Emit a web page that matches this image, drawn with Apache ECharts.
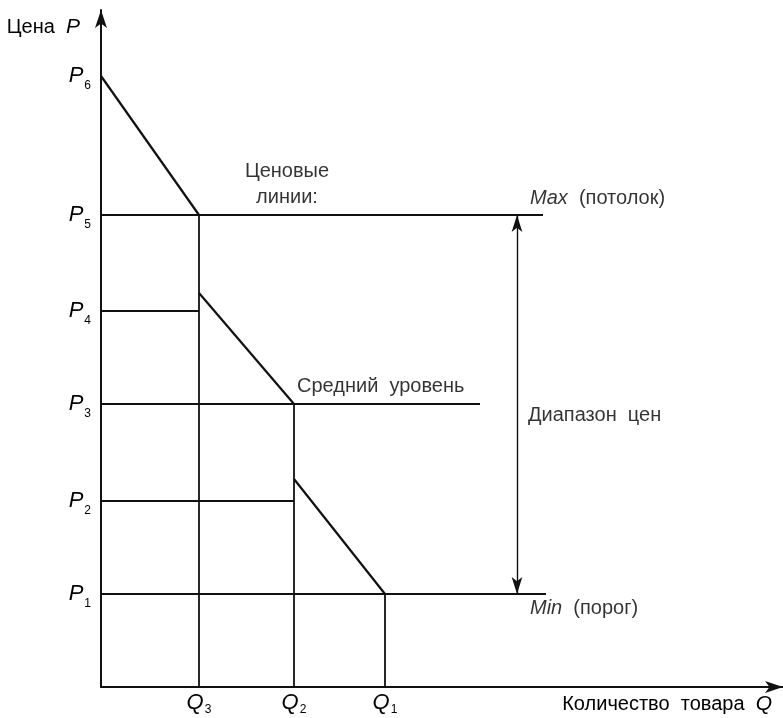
<!DOCTYPE html>
<html>
<head>
<meta charset="utf-8">
<script src="https://cdn.jsdelivr.net/npm/echarts@6/dist/echarts.min.js"></script>
<style>
  html, body { margin: 0; padding: 0; background: #fff; }
  #chart { width: 783px; height: 718px; }
</style>
</head>
<body>
<div id="chart"></div>
<script>
// уровни цен P1..P6 и объемы Q3, Q2, Q1 (условные единицы)
var pLevels = [0.93, 1.86, 2.83, 3.76, 4.72, 6.11];
var pNames = ['1', '2', '3', '4', '5', '6'];
var qLevels = [0.98, 1.93, 2.84];
var qNames = ['3', '2', '1'];

// ломаная кривая спроса (три участка)
var seg1 = [[0, 6.11], [0.98, 4.72]];
var seg2 = [[0.98, 3.94], [1.93, 2.83]];
var seg3 = [[1.93, 2.08], [2.84, 0.93]];

// ценовые линии
var hLines = [
  [[0, 4.72], [4.42, 4.72]],
  [[0, 3.76], [0.98, 3.76]],
  [[0, 2.83], [3.79, 2.83]],
  [[0, 1.86], [1.93, 1.86]],
  [[0, 0.93], [4.45, 0.93]]
];
var vLines = [
  [[0.98, 4.72], [0.98, 0]],
  [[1.93, 2.83], [1.93, 0]],
  [[2.84, 0.93], [2.84, 0]]
];
// диапазон цен (двойная стрелка)
var rangeArrow = [[4.16, 4.72], [4.16, 0.93]];

// подписи
var notes = [
  [1.86, 4.72, 'Ценовые\nлинии:', 'top'],
  [4.29, 4.72, '{i|Max}  (потолок)', 'max'],
  [1.96, 2.83, 'Средний  уровень', 'mid'],
  [4.27, 2.72, 'Диапазон  цен', 'range'],
  [4.29, 0.93, '{i|Min}  (порог)', 'min']
];

var ink = '#111';
var txt = '#000';
var font = 'Liberation Sans';

function seg(data, w) {
  return {
    type: 'line', data: data, symbol: 'none', silent: true,
    lineStyle: { color: ink, width: w }
  };
}

var series = [seg(seg1, 2.2), seg(seg2, 2.2), seg(seg3, 2.2)];
hLines.forEach(function (d) { series.push(seg(d, 1.8)); });
vLines.forEach(function (d) { series.push(seg(d, 1.8)); });

series.push({
  type: 'line', data: [], silent: true,
  markLine: {
    silent: true, symbol: ['arrow', 'arrow'], symbolSize: [8, 17],
    lineStyle: { color: ink, width: 1.4, type: 'solid' },
    label: { show: false },
    data: [[{ coord: rangeArrow[0] }, { coord: rangeArrow[1] }]]
  }
});

var richText = {
  i: { fontFamily: font, fontStyle: 'italic', fontSize: 20, color: txt }
};

series.push({
  type: 'scatter', symbolSize: 0, silent: true,
  data: notes.map(function (n) {
    var lab = { show: true, formatter: n[2], color: txt, fontFamily: font, fontSize: 20, rich: richText };
    if (n[3] == 'top') {
      lab.position = 'top'; lab.distance = 5; lab.lineHeight = 26; lab.align = 'center';
    } else if (n[3] == 'min') {
      lab.position = 'right'; lab.distance = 0; lab.offset = [0, 14];
    } else if (n[3] == 'mid') {
      lab.position = 'right'; lab.distance = 0; lab.offset = [0, -18];
    } else if (n[3] == 'max') {
      lab.position = 'right'; lab.distance = 0; lab.offset = [0, -17];
    } else {
      lab.position = 'right'; lab.distance = 0;
    }
    return { value: [n[0], n[1]], label: lab };
  })
});

var pRich = {
  p: { fontFamily: font, fontStyle: 'italic', fontSize: 22, color: txt },
  s: { fontFamily: font, fontSize: 12, color: txt, padding: [20, 0, 0, 1] }
};
var qRich = {
  p: { fontFamily: font, fontStyle: 'italic', fontSize: 22, color: txt },
  s: { fontFamily: font, fontSize: 12, color: txt, padding: [15, 0, 0, 1] }
};

var chart = echarts.init(document.getElementById('chart'));
chart.setOption({
  backgroundColor: '#fff',
  animation: false,
  grid: { left: 101, right: 0, top: 10, bottom: 31, containLabel: false, outerBoundsMode: 'none' },
  xAxis: {
    type: 'value', min: 0, max: 6.82,
    name: 'Количество  товара  {p|Q}',
    nameLocation: 'end', nameGap: -11, nameMoveOverlap: false,
    nameTextStyle: {
      align: 'right', verticalAlign: 'top', padding: [7, 0, 0, 0],
      fontFamily: font, fontSize: 20, color: txt,
      rich: { p: { fontFamily: font, fontStyle: 'italic', fontSize: 21, color: txt } }
    },
    axisLine: { show: true, onZero: false, symbol: ['none', 'arrow'], symbolSize: [9, 18],
      lineStyle: { color: ink, width: 2 } },
    axisTick: { show: false },
    splitLine: { show: false },
    axisLabel: {
      customValues: qLevels, margin: 2,
      formatter: function (v) {
        return '{p|Q}{s|' + qNames[qLevels.indexOf(v)] + '}';
      },
      rich: qRich
    }
  },
  yAxis: {
    type: 'value', min: 0, max: 6.77,
    name: 'Цена  {p|P}',
    nameLocation: 'end', nameGap: -17, nameMoveOverlap: false,
    nameTextStyle: {
      align: 'right', verticalAlign: 'middle', padding: [0, 21, 0, 0],
      fontFamily: font, fontSize: 20, color: txt,
      rich: { p: { fontFamily: font, fontStyle: 'italic', fontSize: 21, color: txt } }
    },
    axisLine: { show: true, onZero: false, symbol: ['none', 'arrow'], symbolSize: [9, 18],
      lineStyle: { color: ink, width: 2 } },
    axisTick: { show: false },
    splitLine: { show: false },
    axisLabel: {
      customValues: pLevels, margin: 10,
      formatter: function (v) {
        return '{p|P}{s|' + pNames[pLevels.indexOf(v)] + '}';
      },
      rich: pRich
    }
  },
  series: series
});
</script>
</body>
</html>
